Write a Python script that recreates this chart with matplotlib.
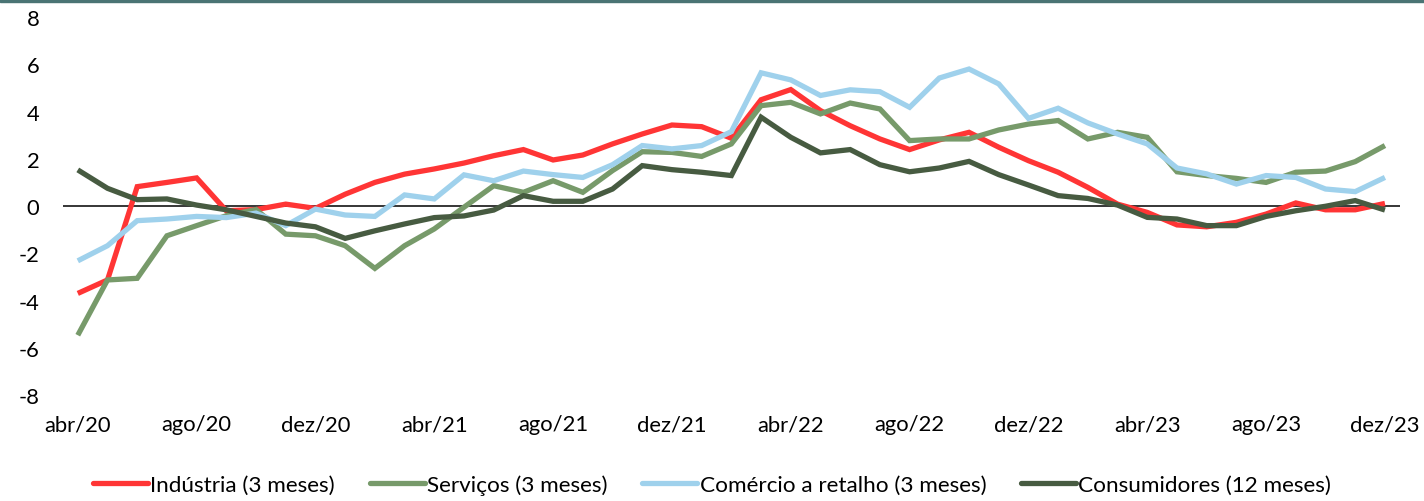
import matplotlib
matplotlib.use("Agg")
import matplotlib.pyplot as plt
import numpy as np

# monthly labels, abr/20 .. dez/23
meses = ["jan", "fev", "mar", "abr", "mai", "jun", "jul", "ago", "set", "out", "nov", "dez"]
labels = []
for ano in range(20, 24):
    for m in meses:
        labels.append("%s/%d" % (m, ano))
labels = labels[3:]

industria = [-3.7, -3.13, 0.82, 1.0, 1.19, -0.2, -0.15, 0.08, -0.1, 0.5, 1.0, 1.35, 1.57,
             1.82, 2.13, 2.39, 1.95, 2.16, 2.63, 3.05, 3.43, 3.36, 2.87, 4.5, 4.93, 4.04,
             3.4, 2.84, 2.39, 2.8, 3.12, 2.49, 1.92, 1.43, 0.79, 0.08, -0.27, -0.8, -0.88,
             -0.69, -0.34, 0.13, -0.16, -0.16, 0.11]
servicos = [-5.47, -3.13, -3.06, -1.26, -0.83, -0.41, -0.15, -1.19, -1.26, -1.68, -2.64,
            -1.68, -0.97, -0.05, 0.86, 0.58, 1.07, 0.58, 1.5, 2.3, 2.27, 2.1, 2.63, 4.25,
            4.39, 3.9, 4.36, 4.11, 2.77, 2.84, 2.84, 3.22, 3.47, 3.62, 2.84, 3.12, 2.91,
            1.45, 1.29, 1.17, 1.0, 1.43, 1.48, 1.88, 2.56]
comercio = [-2.32, -1.68, -0.62, -0.55, -0.44, -0.49, -0.3, -0.83, -0.13, -0.38, -0.44,
            0.47, 0.3, 1.32, 1.07, 1.48, 1.33, 1.21, 1.75, 2.56, 2.42, 2.56, 3.15, 5.64,
            5.34, 4.68, 4.92, 4.84, 4.18, 5.42, 5.8, 5.17, 3.71, 4.14, 3.52, 3.05, 2.63,
            1.61, 1.36, 0.93, 1.29, 1.21, 0.72, 0.61, 1.21]
consumidores = [1.53, 0.75, 0.27, 0.3, 0.04, -0.16, -0.44, -0.72, -0.88, -1.37, -1.05,
                -0.76, -0.49, -0.42, -0.17, 0.44, 0.2, 0.2, 0.72, 1.71, 1.54, 1.43, 1.29,
                3.76, 2.91, 2.25, 2.39, 1.75, 1.45, 1.61, 1.89, 1.33, 0.89, 0.44, 0.32,
                0.04, -0.48, -0.55, -0.83, -0.83, -0.44, -0.2, -0.01, 0.23, -0.17]

series = [
    ("Indústria (3 meses)", industria, "#ff3535"),
    ("Serviços (3 meses)", servicos, "#779a6a"),
    ("Comércio a retalho (3 meses)", comercio, "#9fd1ec"),
    ("Consumidores (12 meses)", consumidores, "#475b41"),
]

plt.rcParams['font.family'] = ['Lato', 'DejaVu Sans']
plt.rcParams['axes.unicode_minus'] = False

fig = plt.figure(figsize=(14.24, 5.02), dpi=100)
ax = fig.add_axes([0.0442, 0.2112, 0.9388, 0.7528])

x = np.arange(len(labels))
ax.axhline(0, color="black", lw=1.1, zorder=1)
for name, vals, col in series:
    ax.plot(x, vals, color=col, lw=3.8, label=name, zorder=2,
            solid_joinstyle="miter", solid_capstyle="butt")

ax.set_xlim(-0.5, len(labels) - 0.5)
ax.set_ylim(-8, 8)
ax.set_yticks(range(-8, 9, 2))
ax.set_xticks(x[::4])
ax.set_xticklabels(labels[::4])
ax.tick_params(axis="both", length=0, labelsize=15.8, colors="black")
ax.tick_params(axis="y", pad=17)
ax.tick_params(axis="x", pad=14)
for s in ax.spines.values():
    s.set_visible(False)

# dark band at the top of the image
fig.patches.append(plt.Rectangle((0, 0.994), 1, 0.006, transform=fig.transFigure,
                                 color="#4a7474", zorder=5))

leg = fig.legend(loc="center", bbox_to_anchor=(0.5, 0.032), ncol=4, frameon=False,
                 fontsize=16.2, handlelength=2.45, handletextpad=0.1, columnspacing=1.55)
for h in leg.get_lines():
    h.set_solid_capstyle("round")

fig.savefig("out.png", dpi=100)
